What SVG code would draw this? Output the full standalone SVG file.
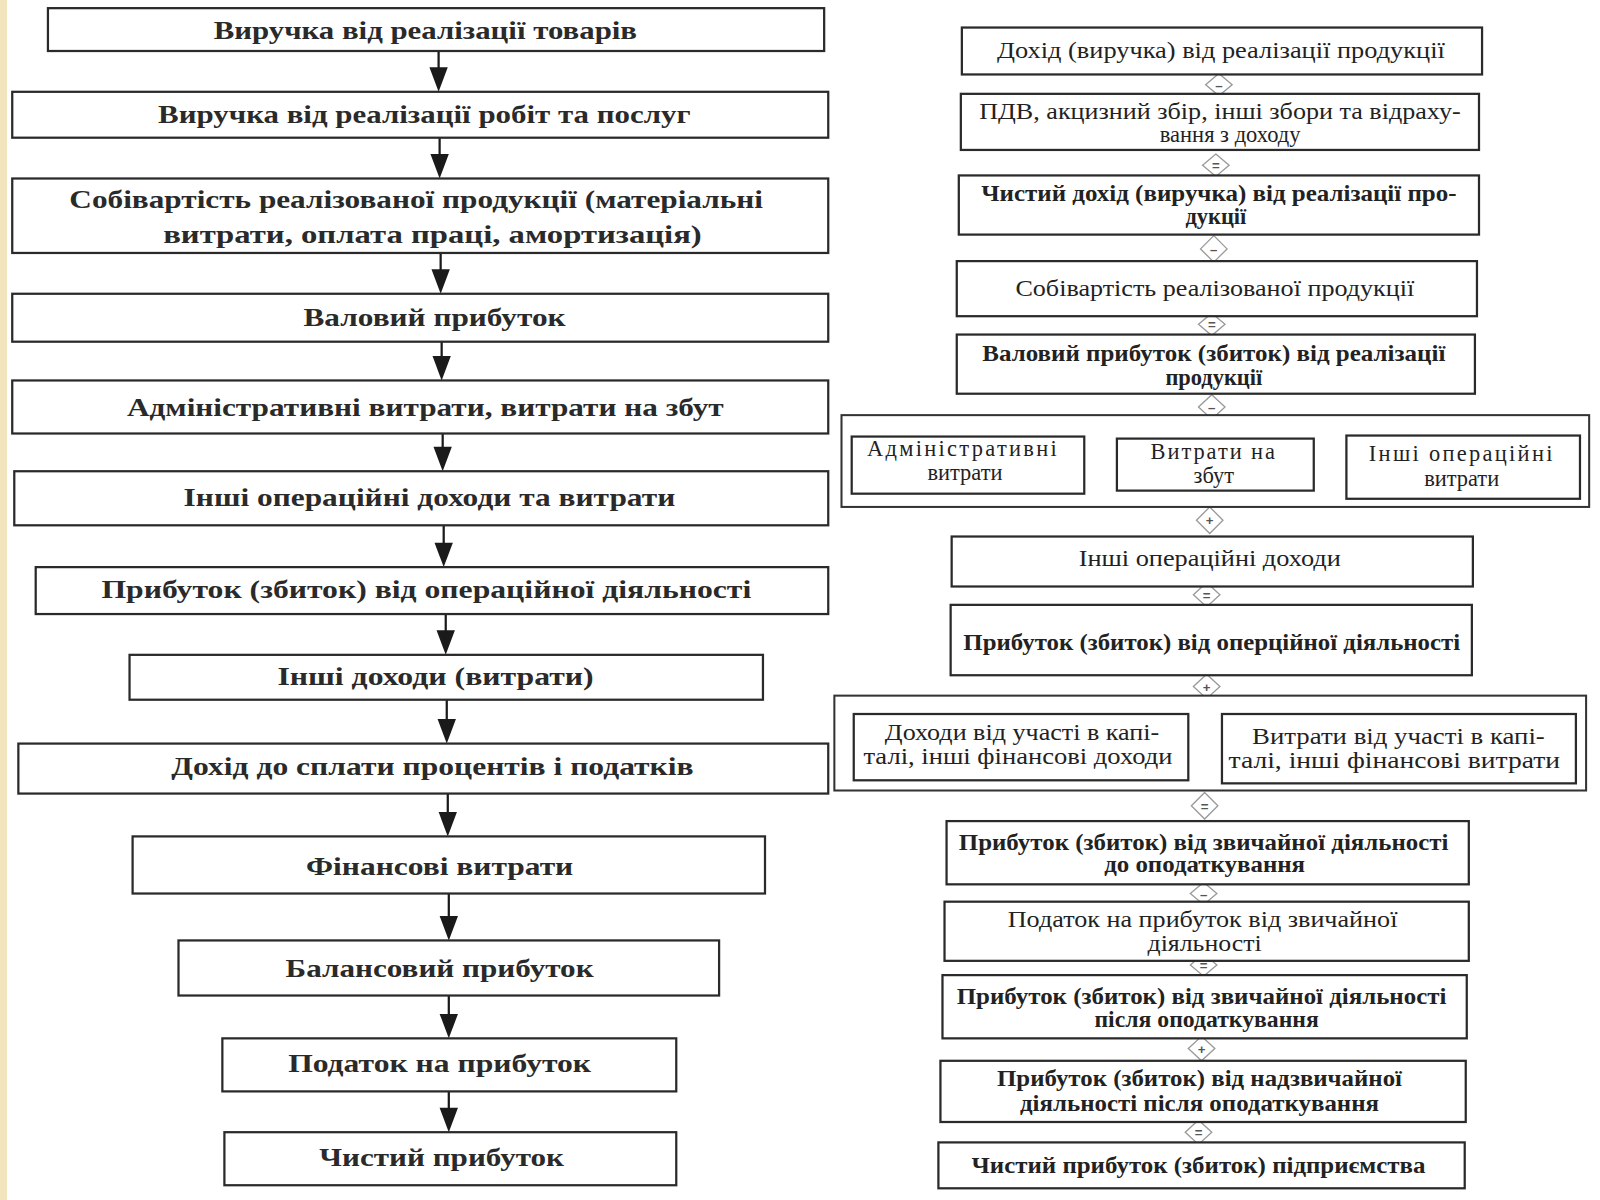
<svg xmlns="http://www.w3.org/2000/svg" width="1600" height="1200" viewBox="0 0 1600 1200">
<style>
.box{fill:#fff;stroke:#2a2a2a;stroke-width:2.2}
.grp{fill:#fff;stroke:#333;stroke-width:2}
.lt{font-family:"Liberation Serif","DejaVu Serif",serif;font-size:25px;font-weight:bold;fill:#2a2a2a;text-anchor:middle}
.rt{font-family:"Liberation Serif","DejaVu Serif",serif;font-size:22px;fill:#222;text-anchor:middle}
.rb{font-weight:bold}
.ln{stroke:#1a1a1a;stroke-width:2.2}
.ah{fill:#1a1a1a}
.dia{fill:#fff;stroke:#999;stroke-width:1.3}
.op{font-family:"Liberation Sans","DejaVu Sans",sans-serif;font-size:13px;font-weight:bold;fill:#555;text-anchor:middle}
</style>
<rect x="0" y="0" width="1600" height="1200" fill="#fff"/>
<rect x="0" y="0" width="7" height="1200" fill="#f2e4bd"/>
<g transform="scale(1.02)">
<g id="connectors">
<line class="ln" x1="430" y1="50" x2="430" y2="70"/><path class="ah" d="M421,66 L439,66 L430,90 z"/>
<line class="ln" x1="431" y1="135" x2="431" y2="155"/><path class="ah" d="M422,151 L440,151 L431,175 z"/>
<line class="ln" x1="432" y1="248" x2="432" y2="268"/><path class="ah" d="M423,264 L441,264 L432,288 z"/>
<line class="ln" x1="433" y1="335" x2="433" y2="353"/><path class="ah" d="M424,349 L442,349 L433,373 z"/>
<line class="ln" x1="434" y1="425" x2="434" y2="442"/><path class="ah" d="M425,438 L443,438 L434,462 z"/>
<line class="ln" x1="435" y1="515" x2="435" y2="536"/><path class="ah" d="M426,532 L444,532 L435,556 z"/>
<line class="ln" x1="437" y1="602" x2="437" y2="622"/><path class="ah" d="M428,618 L446,618 L437,642 z"/>
<line class="ln" x1="438" y1="686" x2="438" y2="709"/><path class="ah" d="M429,705 L447,705 L438,729 z"/>
<line class="ln" x1="439" y1="778" x2="439" y2="800"/><path class="ah" d="M430,796 L448,796 L439,820 z"/>
<line class="ln" x1="440" y1="876" x2="440" y2="902"/><path class="ah" d="M431,898 L449,898 L440,922 z"/>
<line class="ln" x1="440" y1="976" x2="440" y2="998"/><path class="ah" d="M431,994 L449,994 L440,1018 z"/>
<line class="ln" x1="440" y1="1070" x2="440" y2="1090"/><path class="ah" d="M431,1086 L449,1086 L440,1110 z"/>

<g id="op1"><path class="dia" d="M1195,72 L1208,83 L1195,94 L1182,83 z"/><text class="op" x="1195" y="88">–</text></g>
<g id="op2"><path class="dia" d="M1192,151 L1205,162 L1192,173 L1179,162 z"/><text class="op" x="1192" y="167">=</text></g>
<g id="op3"><path class="dia" d="M1190,231 L1203,244 L1190,257 L1177,244 z"/><text class="op" x="1190" y="249">–</text></g>
<g id="op4"><path class="dia" d="M1188,307 L1201,318 L1188,329 L1175,318 z"/><text class="op" x="1188" y="323">=</text></g>
<g id="op5"><path class="dia" d="M1188,387 L1201,399 L1188,411 L1175,399 z"/><text class="op" x="1188" y="404">–</text></g>
<g id="op6"><path class="dia" d="M1076,443 L1088,456 L1076,469 L1064,456 z"/><text class="op" x="1076" y="461">+</text></g>
<g id="op7"><path class="dia" d="M1305,445 L1317,458 L1305,471 L1293,458 z"/><text class="op" x="1305" y="463">+</text></g>
<g id="op8"><path class="dia" d="M1186,497 L1199,510 L1186,523 L1173,510 z"/><text class="op" x="1186" y="515">+</text></g>
<g id="op9"><path class="dia" d="M1183,571 L1196,583 L1183,595 L1170,583 z"/><text class="op" x="1183" y="588">=</text></g>
<g id="op10"><path class="dia" d="M1183,661 L1196,673 L1183,685 L1170,673 z"/><text class="op" x="1183" y="678">+</text></g>
<g id="op11"><path class="dia" d="M1182,715 L1195,730 L1182,745 L1169,730 z"/><text class="op" x="1182" y="735">–</text></g>
<g id="op12"><path class="dia" d="M1181,777 L1194,790 L1181,803 L1168,790 z"/><text class="op" x="1181" y="795">=</text></g>
<g id="op13"><path class="dia" d="M1180,865 L1193,876 L1180,887 L1167,876 z"/><text class="op" x="1180" y="881">–</text></g>
<g id="op14"><path class="dia" d="M1180,935 L1193,946 L1180,957 L1167,946 z"/><text class="op" x="1180" y="951">=</text></g>
<g id="op15"><path class="dia" d="M1178,1016 L1191,1028 L1178,1040 L1165,1028 z"/><text class="op" x="1178" y="1033">+</text></g>
<g id="op16"><path class="dia" d="M1175,1098 L1188,1110 L1175,1122 L1162,1110 z"/><text class="op" x="1175" y="1115">=</text></g>
</g>

<g id="L1"><rect class="box" x="47" y="8" width="761" height="42"/><text class="lt" x="417" y="38" textLength="415" lengthAdjust="spacingAndGlyphs">Виручка від реалізації товарів</text></g>
<g id="L2"><rect class="box" x="12" y="90" width="800" height="45"/><text class="lt" x="416" y="121" textLength="522" lengthAdjust="spacingAndGlyphs">Виручка від реалізації робіт та послуг</text></g>
<g id="L3"><rect class="box" x="12" y="175" width="800" height="73"/><text class="lt" x="408" y="204" textLength="680" lengthAdjust="spacingAndGlyphs">Собівартість реалізованої продукції (матеріальні</text><text class="lt" x="424" y="238" textLength="528" lengthAdjust="spacingAndGlyphs">витрати, оплата праці, амортизація)</text></g>
<g id="L4"><rect class="box" x="12" y="288" width="800" height="47"/><text class="lt" x="426" y="320" textLength="257" lengthAdjust="spacingAndGlyphs">Валовий прибуток</text></g>
<g id="L5"><rect class="box" x="12" y="373" width="800" height="52"/><text class="lt" x="417" y="408" textLength="585" lengthAdjust="spacingAndGlyphs">Адміністративні витрати, витрати на збут</text></g>
<g id="L6"><rect class="box" x="14" y="462" width="798" height="53"/><text class="lt" x="421" y="496" textLength="482" lengthAdjust="spacingAndGlyphs">Інші операційні доходи та витрати</text></g>
<g id="L7"><rect class="box" x="35" y="556" width="777" height="46"/><text class="lt" x="418" y="586" textLength="637" lengthAdjust="spacingAndGlyphs">Прибуток (збиток) від операційної діяльності</text></g>
<g id="L8"><rect class="box" x="127" y="642" width="621" height="44"/><text class="lt" x="427" y="672" textLength="310" lengthAdjust="spacingAndGlyphs">Інші доходи (витрати)</text></g>
<g id="L9"><rect class="box" x="18" y="729" width="794" height="49"/><text class="lt" x="424" y="760" textLength="512" lengthAdjust="spacingAndGlyphs">Дохід до сплати процентів і податків</text></g>
<g id="L10"><rect class="box" x="130" y="820" width="620" height="56"/><text class="lt" x="431" y="858" textLength="262" lengthAdjust="spacingAndGlyphs">Фінансові витрати</text></g>
<g id="L11"><rect class="box" x="175" y="922" width="530" height="54"/><text class="lt" x="431" y="958" textLength="302" lengthAdjust="spacingAndGlyphs">Балансовий прибуток</text></g>
<g id="L12"><rect class="box" x="218" y="1018" width="445" height="52"/><text class="lt" x="431" y="1051" textLength="297" lengthAdjust="spacingAndGlyphs">Податок на прибуток</text></g>
<g id="L13"><rect class="box" x="220" y="1110" width="443" height="52"/><text class="lt" x="433" y="1143" textLength="240" lengthAdjust="spacingAndGlyphs">Чистий прибуток</text></g>

<g id="R1"><rect class="box" x="943" y="27" width="510" height="46"/><text class="rt" x="1197" y="57" textLength="439" lengthAdjust="spacingAndGlyphs">Дохід (виручка) від реалізації продукції</text></g>
<g id="R2"><rect class="box" x="942" y="92" width="508" height="55"/><text class="rt" x="1196" y="117" textLength="472" lengthAdjust="spacingAndGlyphs">ПДВ, акцизний збір, інші збори та відраху-</text><text class="rt" x="1206" y="139" textLength="138" lengthAdjust="spacingAndGlyphs">вання з доходу</text></g>
<g id="R3"><rect class="box" x="940" y="172" width="510" height="58"/><text class="rt rb" x="1195" y="197" textLength="466" lengthAdjust="spacingAndGlyphs">Чистий дохід (виручка) від реалізації про-</text><text class="rt rb" x="1192" y="220">дукції</text></g>
<g id="R4"><rect class="box" x="938" y="256" width="510" height="54"/><text class="rt" x="1191" y="290" textLength="391" lengthAdjust="spacingAndGlyphs">Собівартість реалізованої продукції</text></g>
<g id="R5"><rect class="box" x="938" y="328" width="508" height="58"/><text class="rt rb" x="1190" y="354" textLength="454" lengthAdjust="spacingAndGlyphs">Валовий прибуток (збиток) від реалізації</text><text class="rt rb" x="1190" y="377">продукції</text></g>

<g id="G1">
<rect class="grp" x="825" y="407" width="733" height="90"/>
<g id="G1a"><rect class="box" x="835" y="428" width="228" height="56"/><text class="rt" x="943" y="447" textLength="186" lengthAdjust="spacing">Адміністративні</text><text class="rt" x="946" y="471">витрати</text></g>
<g id="G1b"><rect class="box" x="1095" y="430" width="193" height="51"/><text class="rt" x="1189" y="450" textLength="122" lengthAdjust="spacing">Витрати на</text><text class="rt" x="1190" y="474">збут</text></g>
<g id="G1c"><rect class="box" x="1320" y="427" width="229" height="62"/><text class="rt" x="1432" y="452" textLength="180" lengthAdjust="spacing">Інші операційні</text><text class="rt" x="1433" y="476">витрати</text></g>
</g>

<g id="R6"><rect class="box" x="933" y="526" width="511" height="49"/><text class="rt" x="1186" y="555" textLength="257" lengthAdjust="spacingAndGlyphs">Інші операційні доходи</text></g>
<g id="R7"><rect class="box" x="932" y="593" width="511" height="69"/><text class="rt rb" x="1188" y="637" textLength="487" lengthAdjust="spacingAndGlyphs">Прибуток (збиток) від оперційної діяльності</text></g>

<g id="G2">
<rect class="grp" x="818" y="682" width="737" height="93"/>
<g id="G2a"><rect class="box" x="837" y="700" width="328" height="65"/><text class="rt" x="1002" y="725" textLength="269" lengthAdjust="spacingAndGlyphs">Доходи від участі в капі-</text><text class="rt" x="998" y="749" textLength="303" lengthAdjust="spacingAndGlyphs">талі, інші фінансові доходи</text></g>
<g id="G2b"><rect class="box" x="1198" y="700" width="347" height="68"/><text class="rt" x="1371" y="729" textLength="287" lengthAdjust="spacingAndGlyphs">Витрати від участі в капі-</text><text class="rt" x="1367" y="753" textLength="325" lengthAdjust="spacingAndGlyphs">талі, інші фінансові витрати</text></g>
</g>

<g id="R8"><rect class="box" x="928" y="805" width="512" height="62"/><text class="rt rb" x="1180" y="833" textLength="480" lengthAdjust="spacingAndGlyphs">Прибуток (збиток) від звичайної діяльності</text><text class="rt rb" x="1181" y="855" textLength="197" lengthAdjust="spacingAndGlyphs">до оподаткування</text></g>
<g id="R9"><rect class="box" x="926" y="884" width="514" height="58"/><text class="rt" x="1179" y="909" textLength="382" lengthAdjust="spacingAndGlyphs">Податок на прибуток від звичайної</text><text class="rt" x="1181" y="932" textLength="112" lengthAdjust="spacingAndGlyphs">діяльності</text></g>
<g id="R10"><rect class="box" x="924" y="956" width="514" height="62"/><text class="rt rb" x="1178" y="984" textLength="480" lengthAdjust="spacingAndGlyphs">Прибуток (збиток) від звичайної діяльності</text><text class="rt rb" x="1183" y="1007" textLength="220" lengthAdjust="spacingAndGlyphs">після оподаткування</text></g>
<g id="R11"><rect class="box" x="922" y="1040" width="515" height="60"/><text class="rt rb" x="1176" y="1065" textLength="397" lengthAdjust="spacingAndGlyphs">Прибуток (збиток) від надзвичайної</text><text class="rt rb" x="1176" y="1089" textLength="352" lengthAdjust="spacingAndGlyphs">діяльності після оподаткування</text></g>
<g id="R12"><rect class="box" x="920" y="1120" width="516" height="45"/><text class="rt rb" x="1175" y="1150" textLength="445" lengthAdjust="spacingAndGlyphs">Чистий прибуток (збиток) підприємства</text></g>
</g>
</svg>
